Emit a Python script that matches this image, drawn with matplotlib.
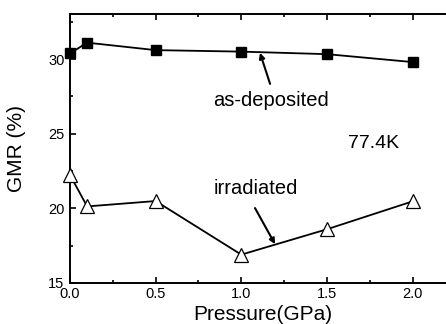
import matplotlib
matplotlib.use("Agg")
import matplotlib.pyplot as plt
from matplotlib.ticker import MultipleLocator

plt.rcParams['font.family'] = ['Liberation Sans', 'DejaVu Sans']

pressure = [0.0, 0.1, 0.5, 1.0, 1.5, 2.0]
as_deposited = [30.38, 31.1, 30.6, 30.5, 30.33, 29.8]
irradiated = [22.24, 20.13, 20.49, 16.9, 18.6, 20.47]

fig = plt.figure(figsize=(4.46, 3.24), dpi=100)
W, H = 446, 324
left_px, bottom_px, top_px = 70, 283, 14.3
px_per_unit = 171.3
xmax = 2.25
ax = fig.add_axes([left_px / W, (H - bottom_px) / H,
                   xmax * px_per_unit / W, (bottom_px - top_px) / H])

ax.plot(pressure, as_deposited, color='black', lw=1.3, marker='s', ms=7.5,
        mfc='black', mec='black', clip_on=False, zorder=3)
ax.plot(pressure, irradiated, color='black', lw=1.3, marker='^', ms=10,
        mfc='white', mec='black', mew=0.9, clip_on=False, zorder=3)

ax.set_xlim(0, xmax)
ax.set_ylim(15, 33)
ax.xaxis.set_minor_locator(MultipleLocator(0.25))
ax.yaxis.set_major_locator(MultipleLocator(5))
ax.yaxis.set_minor_locator(MultipleLocator(2.5))
ax.set_xticks([0.0, 0.5, 1.0, 1.5, 2.0])
ax.set_xticklabels(['0.0', '0.5', '1.0', '1.5', '2.0'])
ax.tick_params(which='both', direction='in', top=True, right=False,
               labelsize=10.5, width=1.2)
ax.tick_params(which='major', length=4.5)
ax.tick_params(axis='x', which='major', pad=3)
ax.tick_params(axis='y', which='major', pad=4)
ax.tick_params(which='minor', length=2.5)
for s in ax.spines.values():
    s.set_linewidth(1.4)

ax.set_xlabel('Pressure(GPa)', fontsize=15, labelpad=3)
ax.set_ylabel('GMR (%)', fontsize=15, labelpad=16)

arrow = dict(arrowstyle='-|>', color='black', lw=1.5,
             shrinkA=0, shrinkB=0, mutation_scale=8)
ax.text(1.173, 27.2, 'as-deposited', fontsize=14.5, ha='center', va='center')
ax.annotate('', xy=(1.109, 30.42), xytext=(1.168, 28.34), arrowprops=arrow)
ax.text(1.086, 21.3, 'irradiated', fontsize=14.5, ha='center', va='center')
ax.annotate('', xy=(1.197, 17.6), xytext=(1.08, 20.02), arrowprops=arrow)
ax.text(1.775, 24.33, '77.4K', fontsize=14, ha='center', va='center')

fig.savefig('out.png', dpi=100)
